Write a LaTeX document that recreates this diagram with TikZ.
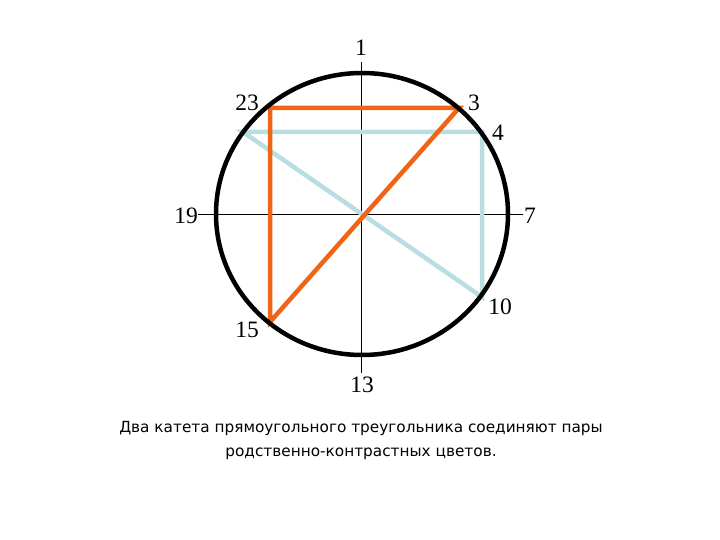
\documentclass[tikz,border=0pt]{standalone}
\usepackage{fontspec}
\setmainfont{Liberation Serif}
\newfontfamily\capfont{DejaVu Sans}
\definecolor{orng}{RGB}{240,100,22}
\definecolor{lblue}{RGB}{184,222,226}
\begin{document}
\begin{tikzpicture}[x=1pt,y=-1pt,
  axis/.style={draw=black,line width=0.9pt},
  ring/.style={draw=black,line width=4.5pt},
  warm/.style={draw=orng,line width=4.5pt,line join=miter},
  cool/.style={draw=lblue,line width=4.5pt,line join=miter},
  num/.style={font=\fontsize{23.5}{23.5}\selectfont,inner sep=0pt}]
\useasboundingbox (0,0) rectangle (720,540);
% axis ends
\coordinate (ctr) at (362,214);
\coordinate (at) at (361,62);
\coordinate (ab) at (361,373);
\coordinate (al) at (198,214);
\coordinate (ar) at (523,214);
% points on circle
\coordinate (p23) at (270,108);
\coordinate (p3) at (459,108);
\coordinate (p15) at (270,322);
\coordinate (p4) at (482,132);
\coordinate (p21) at (243,132);
\coordinate (p10) at (482,297);
\draw[axis] (at) -- (ab);
\draw[axis] (al) -- (ar);
\draw[cool] (p21) -- (p4) -- (p10) -- cycle;
\draw[warm] (p3) -- (p23) -- (p15) -- cycle;
\draw[ring] (ctr) ellipse [x radius=146, y radius=141];
% labels
\node[num] (l1) at (361,48) {1};
\node[num] (l23) at (247,103) {23};
\node[num] (l3) at (474,103) {3};
\node[num] (l4) at (498,133) {4};
\node[num] (l19) at (186,216) {19};
\node[num] (l7) at (530,216) {7};
\node[num] (l10) at (500,307) {10};
\node[num] (l15) at (247,330) {15};
\node[num] (l13) at (362,385) {13};
\node[inner sep=0pt,align=center,font=\capfont\fontsize{15.3}{24}\selectfont] (cap) at (361,441)
  {Два катета прямоугольного треугольника соединяют пары\\родственно-контрастных цветов.};
\end{tikzpicture}
\end{document}
